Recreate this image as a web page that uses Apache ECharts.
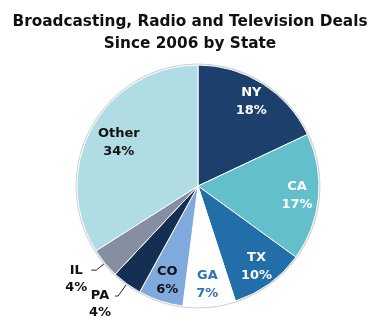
<!DOCTYPE html>
<html>
<head>
<meta charset="utf-8">
<script src="https://cdn.jsdelivr.net/npm/echarts@6/dist/echarts.min.js"></script>
<style>
  html, body { margin: 0; padding: 0; background: #fff; }
  #chart { width: 380px; height: 333px; }
</style>
</head>
<body>
<div id="chart"></div>
<script>
// Share of deals by state (percent), clockwise from 12 o'clock
const states = ['NY', 'CA', 'TX', 'GA', 'CO', 'PA', 'IL', 'Other'];
const shares = [18, 17, 10, 7, 6, 4, 4, 34];
const sliceColors = ['#1c3f6c', '#63bfcc', '#226ea8', '#ffffff', '#80a9de', '#142f52', '#858fa1', '#b0dde4'];
const labelColors = ['#ffffff', '#ffffff', '#ffffff', '#2e74b5', '#111111', '#111111', '#111111', '#111111'];
const outsideLabels = ['PA', 'IL'];

const FONT = 'DejaVu Sans';
const CENTER = [198, 186];
const R = 121;

const chart = echarts.init(document.getElementById('chart'), null, { renderer: 'canvas' });

const sliceData = states.map((s, i) => ({
  name: s,
  value: shares[i],
  itemStyle: { color: sliceColors[i] }
}));

const labelData = states.map((s, i) => {
  const outside = outsideLabels.includes(s);
  const item = {
    name: s,
    value: shares[i],
    label: outside ? {
      position: 'outside',
      color: labelColors[i],
      padding: [17, 0, 0, 0],
      distanceToLabelLine: 1,
      formatter: '{t|{b}}\n{t|{c}%}'
    } : {
      position: 'inside',
      color: labelColors[i]
    },
    labelLine: outside ? { show: true } : { show: false }
  };
  if (s === 'PA') item.labelLine = { show: true, length: 15, length2: 3 };
  // the large slice's label sits a little nearer the centre
  if (s === 'Other') item.label.offset = [8, 5];
  return item;
});

chart.setOption({
  animation: false,
  title: {
    text: 'Broadcasting, Radio and Television Deals\nSince 2006 by State',
    left: 'center',
    top: 6,
    textStyle: {
      fontFamily: FONT,
      fontWeight: 'bold',
      fontSize: 15.3,
      lineHeight: 22,
      color: '#111'
    }
  },
  series: [
    {
      // faint grey rim behind the pie
      type: 'pie',
      silent: true,
      center: CENTER,
      radius: R + 1.5,
      label: { show: false },
      labelLine: { show: false },
      data: [{ value: 1, itemStyle: { color: '#cfd3d6' } }]
    },
    {
      type: 'pie',
      silent: true,
      center: CENTER,
      radius: R,
      startAngle: 90,
      clockwise: true,
      label: { show: false },
      labelLine: { show: false },
      itemStyle: { borderColor: '#ffffff', borderWidth: 1 },
      data: sliceData
    },
    {
      // label layer: its ring midpoint places the inside labels near the rim
      type: 'pie',
      silent: true,
      center: CENTER,
      radius: [72, R],
      startAngle: 90,
      clockwise: true,
      avoidLabelOverlap: false,
      labelLayout: { hideOverlap: false },
      itemStyle: { color: 'rgba(0,0,0,0)' },
      label: {
        show: true,
        formatter: '{b}\n{c}%',
        fontFamily: FONT,
        fontWeight: 'bold',
        fontSize: 13,
        lineHeight: 18,
        rich: {
          t: {
            fontFamily: FONT,
            fontWeight: 'bold',
            fontSize: 13,
            lineHeight: 17,
            width: 28,
            align: 'center'
          }
        }
      },
      labelLine: {
        length: 11,
        length2: 5,
        lineStyle: { color: '#222', width: 1 }
      },
      data: labelData
    }
  ]
});
</script>
</body>
</html>
